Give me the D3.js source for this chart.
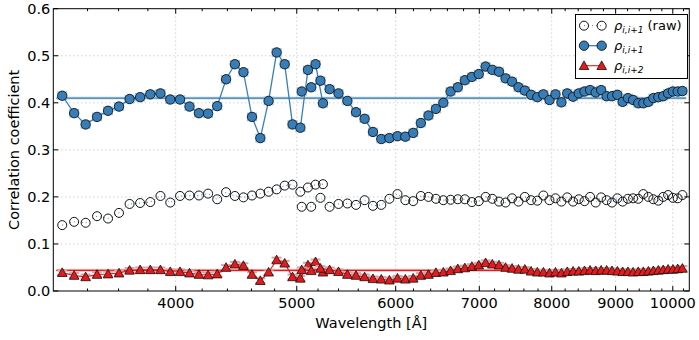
<!DOCTYPE html>
<html>
<head>
<meta charset="utf-8">
<script src="https://cdn.jsdelivr.net/npm/d3@7"></script>
<style>
body { margin: 0; background: #fff; }
text { font-family: "DejaVu Sans", sans-serif; fill: #000; }
</style>
</head>
<body>
<div id="chart"></div>
<script>
// wavelengths of the two spectrograph arms [A]
const waveArm1 = [3245, 3317, 3388, 3460, 3531, 3603, 3674, 3746, 3817, 3889, 3960, 4032, 4103, 4175, 4246,
    4318, 4389, 4461, 4532, 4604, 4675, 4747, 4818, 4890, 4961, 5033, 5104, 5176, 5247];
const waveArm2 = [5046, 5135, 5223, 5312, 5400, 5489, 5577, 5666, 5754, 5843, 5931, 6020, 6108, 6197, 6285,
    6374, 6462, 6551, 6639, 6728, 6816, 6905, 6993, 7082, 7170, 7259, 7347, 7436, 7524, 7613,
    7701, 7790, 7878, 7967, 8055, 8144, 8232, 8321, 8409, 8498, 8586, 8675, 8763, 8852, 8940,
    9029, 9117, 9206, 9294, 9383, 9471, 9560, 9648, 9737, 9825, 9914, 10002, 10091, 10179];

// rho_{i,i+1} (raw)
const rawArm1 = [0.140, 0.147, 0.145, 0.159, 0.154, 0.166, 0.185, 0.187, 0.189, 0.202, 0.188, 0.202, 0.203, 0.203, 0.207,
    0.195, 0.210, 0.202, 0.199, 0.203, 0.207, 0.211, 0.216, 0.224, 0.226, 0.211, 0.220, 0.226, 0.227];
const rawArm2 = [0.179, 0.179, 0.198, 0.179, 0.185, 0.186, 0.183, 0.193, 0.181, 0.183, 0.196, 0.206, 0.193, 0.191, 0.202,
    0.200, 0.196, 0.193, 0.194, 0.195, 0.195, 0.189, 0.191, 0.200, 0.196, 0.190, 0.188, 0.197, 0.190, 0.200,
    0.193, 0.192, 0.203, 0.193, 0.197, 0.190, 0.199, 0.190, 0.195, 0.191, 0.200, 0.188, 0.199, 0.193, 0.188,
    0.197, 0.190, 0.196, 0.197, 0.196, 0.206, 0.200, 0.195, 0.192, 0.200, 0.204, 0.198, 0.197, 0.204];

// rho_{i,i+1}
const rho1Arm1 = [0.415, 0.378, 0.354, 0.370, 0.383, 0.392, 0.408, 0.412, 0.418, 0.420, 0.407, 0.407, 0.392, 0.378, 0.377,
    0.393, 0.450, 0.482, 0.465, 0.370, 0.325, 0.404, 0.507, 0.482, 0.354, 0.347, 0.470, 0.482, 0.399];
const rho1Arm2 = [0.424, 0.433, 0.447, 0.429, 0.420, 0.404, 0.380, 0.366, 0.338, 0.323, 0.325, 0.329, 0.328, 0.336, 0.357,
    0.373, 0.387, 0.400, 0.424, 0.433, 0.448, 0.455, 0.461, 0.477, 0.470, 0.466, 0.452, 0.445, 0.433, 0.426,
    0.417, 0.412, 0.418, 0.406, 0.418, 0.401, 0.420, 0.413, 0.420, 0.424, 0.427, 0.422, 0.427, 0.414, 0.414,
    0.417, 0.402, 0.410, 0.406, 0.399, 0.399, 0.402, 0.410, 0.412, 0.414, 0.420, 0.424, 0.424, 0.425];

// rho_{i,i+2}
const rho2Arm1 = [0.039, 0.033, 0.030, 0.035, 0.036, 0.038, 0.044, 0.045, 0.045, 0.045, 0.041, 0.041, 0.038, 0.035, 0.034,
    0.036, 0.050, 0.057, 0.054, 0.035, 0.022, 0.040, 0.066, 0.059, 0.030, 0.027, 0.055, 0.062, 0.040];
const rho2Arm2 = [0.045, 0.043, 0.048, 0.045, 0.041, 0.035, 0.033, 0.030, 0.026, 0.025, 0.023, 0.027, 0.025, 0.027, 0.033,
    0.035, 0.039, 0.040, 0.043, 0.047, 0.049, 0.052, 0.055, 0.060, 0.057, 0.055, 0.050, 0.048, 0.046, 0.046,
    0.042, 0.040, 0.040, 0.038, 0.040, 0.038, 0.041, 0.042, 0.042, 0.043, 0.044, 0.043, 0.044, 0.044, 0.043,
    0.042, 0.041, 0.041, 0.040, 0.041, 0.041, 0.042, 0.043, 0.044, 0.045, 0.046, 0.046, 0.047, 0.048];

// mean levels
const meanRho1 = 0.410;
const meanRho2 = 0.044;

const xTicks = [4000, 5000, 6000, 7000, 8000, 9000, 10000];
const yTicks = [0.0, 0.1, 0.2, 0.3, 0.4, 0.5, 0.6];

const blue = "#377eb8", red = "#e41a1c";

const margin = {top: 8.7, right: 9.7, bottom: 49, left: 53.3},
      width = 699 - margin.left - margin.right,
      height = 340 - margin.top - margin.bottom;

const svg0 = d3.select("#chart")
    .append("svg")
    .attr("width", 699)
    .attr("height", 340);

const svg = svg0.append("g")
    .attr("transform", `translate(${margin.left},${margin.top})`);

const x = d3.scaleLog()
    .domain([3192, 10309])
    .range([0, width]);

const y = d3.scaleLinear()
    .domain([0, 0.6])
    .range([height, 0]);

const zip = (w, v) => w.map((d, i) => ({w: d, v: v[i]}));

// grid
svg.append("g").selectAll("line")
    .data(xTicks)
    .enter().append("line")
    .attr("x1", d => x(d)).attr("x2", d => x(d))
    .attr("y1", 0).attr("y2", height)
    .attr("stroke", "#bbb").attr("stroke-width", 1).attr("stroke-dasharray", "1,3");
svg.append("g").selectAll("line")
    .data(yTicks.slice(1, -1))
    .enter().append("line")
    .attr("x1", 0).attr("x2", width)
    .attr("y1", d => y(d)).attr("y2", d => y(d))
    .attr("stroke", "#bbb").attr("stroke-width", 1).attr("stroke-dasharray", "1,3");

// mean lines with light band
function meanLine(m, col, band) {
    svg.append("rect")
        .attr("x", x(3210)).attr("width", x(10250) - x(3210))
        .attr("y", y(m + band)).attr("height", y(m - band) - y(m + band))
        .attr("fill", col).attr("opacity", 0.3);
    svg.append("line")
        .attr("x1", x(3210)).attr("x2", x(10250))
        .attr("y1", y(m)).attr("y2", y(m))
        .attr("stroke", col).attr("stroke-width", 1.2);
}
meanLine(meanRho1, blue, 0.003);
meanLine(meanRho2, red, 0.003);

const line = d3.line().x(d => x(d.w)).y(d => y(d.v));

// raw series: dotted line + open circles
[zip(waveArm1, rawArm1), zip(waveArm2, rawArm2)].forEach(data => {
    svg.append("path")
        .datum(data)
        .attr("fill", "none")
        .attr("stroke", blue)
        .attr("stroke-width", 1)
        .attr("stroke-dasharray", "1,3")
        .attr("d", line);
    svg.selectAll(null)
        .data(data)
        .enter().append("circle")
        .attr("cx", d => x(d.w))
        .attr("cy", d => y(d.v))
        .attr("r", 4.5)
        .attr("fill", "none")
        .attr("stroke", "#111")
        .attr("stroke-width", 1);
});

// error bars
function errBars(data, err, col) {
    const g = svg.append("g").attr("stroke", col).attr("stroke-width", 2);
    data.forEach(d => {
        const cx = x(d.w);
        g.append("line").attr("x1", cx).attr("x2", cx).attr("y1", y(d.v + err)).attr("y2", y(d.v - err));
        g.append("line").attr("x1", cx - 5).attr("x2", cx + 5).attr("y1", y(d.v + err)).attr("y2", y(d.v + err));
        g.append("line").attr("x1", cx - 5).attr("x2", cx + 5).attr("y1", y(d.v - err)).attr("y2", y(d.v - err));
    });
}

// rho_{i,i+1}
[zip(waveArm1, rho1Arm1), zip(waveArm2, rho1Arm2)].forEach(data => {
    errBars(data, 0.007, "#92bde3");
    svg.append("path")
        .datum(data)
        .attr("fill", "none")
        .attr("stroke", blue)
        .attr("stroke-width", 1.3)
        .attr("d", line);
    svg.selectAll(null)
        .data(data)
        .enter().append("circle")
        .attr("cx", d => x(d.w))
        .attr("cy", d => y(d.v))
        .attr("r", 4.7)
        .attr("fill", blue)
        .attr("stroke", "#111")
        .attr("stroke-width", 0.9);
});

// rho_{i,i+2}
const tri = r => `M0,${-r}L${r},${r * 0.8}L${-r},${r * 0.8}Z`;
[zip(waveArm1, rho2Arm1), zip(waveArm2, rho2Arm2)].forEach(data => {
    errBars(data, 0.005, "#d9a3a3");
    svg.append("path")
        .datum(data)
        .attr("fill", "none")
        .attr("stroke", red)
        .attr("stroke-width", 1.1)
        .attr("d", line);
    svg.selectAll(null)
        .data(data)
        .enter().append("path")
        .attr("transform", d => `translate(${x(d.w)},${y(d.v)})`)
        .attr("d", tri(4.8))
        .attr("fill", red)
        .attr("stroke", "#111")
        .attr("stroke-width", 0.8);
});

// frame
svg.append("rect")
    .attr("width", width).attr("height", height)
    .attr("fill", "none").attr("stroke", "#000").attr("stroke-width", 1);

// ticks (inward, all four sides)
const tk = svg.append("g").attr("stroke", "#000").attr("stroke-width", 1);
const minor = d3.range(3400, 10400, 200).filter(d => d % 1000 !== 0);
minor.forEach(d => {
    tk.append("line").attr("x1", x(d)).attr("x2", x(d)).attr("y1", height).attr("y2", height - 2.5);
    tk.append("line").attr("x1", x(d)).attr("x2", x(d)).attr("y1", 0).attr("y2", 2.5);
});
xTicks.forEach(d => {
    tk.append("line").attr("x1", x(d)).attr("x2", x(d)).attr("y1", height).attr("y2", height - 5);
    tk.append("line").attr("x1", x(d)).attr("x2", x(d)).attr("y1", 0).attr("y2", 5);
});
yTicks.forEach(d => {
    tk.append("line").attr("x1", 0).attr("x2", 5).attr("y1", y(d)).attr("y2", y(d));
    tk.append("line").attr("x1", width).attr("x2", width - 5).attr("y1", y(d)).attr("y2", y(d));
});

// tick labels
svg.append("g").selectAll("text")
    .data(xTicks)
    .enter().append("text")
    .attr("x", d => x(d))
    .attr("y", height + 17)
    .attr("text-anchor", "middle")
    .attr("font-size", 14.5)
    .text(d => d);
svg.append("g").selectAll("text")
    .data(yTicks)
    .enter().append("text")
    .attr("x", -3)
    .attr("y", d => y(d))
    .attr("dy", "0.36em")
    .attr("text-anchor", "end")
    .attr("font-size", 14.5)
    .text(d => d3.format(".1f")(d));

// axis titles
svg.append("text")
    .attr("x", width / 2)
    .attr("y", height + 37)
    .attr("text-anchor", "middle")
    .attr("font-size", 14.5)
    .text("Wavelength [Å]");
svg.append("text")
    .attr("transform", "rotate(-90)")
    .attr("x", -height / 2)
    .attr("y", -margin.left + 19)
    .attr("text-anchor", "middle")
    .attr("font-size", 14.5)
    .text("Correlation coefficient");

// legend
const lg = svg0.append("g");
lg.append("rect")
    .attr("x", 575.5).attr("y", 14.5).attr("width", 112).attr("height", 64)
    .attr("fill", "#fff").attr("stroke", "#000").attr("stroke-width", 1);
const items = [
    {y: 25.7, kind: "raw", sub: "i,i+1", extra: " (raw)"},
    {y: 45.7, kind: "rho1", sub: "i,i+1", extra: ""},
    {y: 65.7, kind: "rho2", sub: "i,i+2", extra: ""}
];
items.forEach(it => {
    if (it.kind === "raw") {
        lg.append("line").attr("x1", 584).attr("x2", 601.7).attr("y1", it.y).attr("y2", it.y)
            .attr("stroke", blue).attr("stroke-dasharray", "1,3");
        [584, 601.7].forEach(cx => lg.append("circle").attr("cx", cx).attr("cy", it.y).attr("r", 4.5)
            .attr("fill", "none").attr("stroke", "#111"));
    } else if (it.kind === "rho1") {
        lg.append("line").attr("x1", 584).attr("x2", 601.7).attr("y1", it.y).attr("y2", it.y)
            .attr("stroke", blue).attr("stroke-width", 1.3);
        [584, 601.7].forEach(cx => lg.append("circle").attr("cx", cx).attr("cy", it.y).attr("r", 4.7)
            .attr("fill", blue).attr("stroke", "#111").attr("stroke-width", 0.9));
    } else {
        lg.append("line").attr("x1", 584).attr("x2", 601.7).attr("y1", it.y).attr("y2", it.y)
            .attr("stroke", red).attr("stroke-width", 1.1);
        [584, 601.7].forEach(cx => lg.append("path").attr("transform", `translate(${cx},${it.y})`)
            .attr("d", tri(4.8)).attr("fill", red).attr("stroke", "#111").attr("stroke-width", 0.8));
    }
    const t = lg.append("text").attr("x", 614).attr("y", it.y + 4.5).attr("font-size", 13);
    t.append("tspan").attr("font-style", "italic").text("ρ");
    t.append("tspan").attr("font-style", "italic").attr("font-size", 9).attr("dy", 3).text(it.sub);
    if (it.extra) t.append("tspan").attr("dy", -3).text(it.extra);
});
</script>
</body>
</html>
